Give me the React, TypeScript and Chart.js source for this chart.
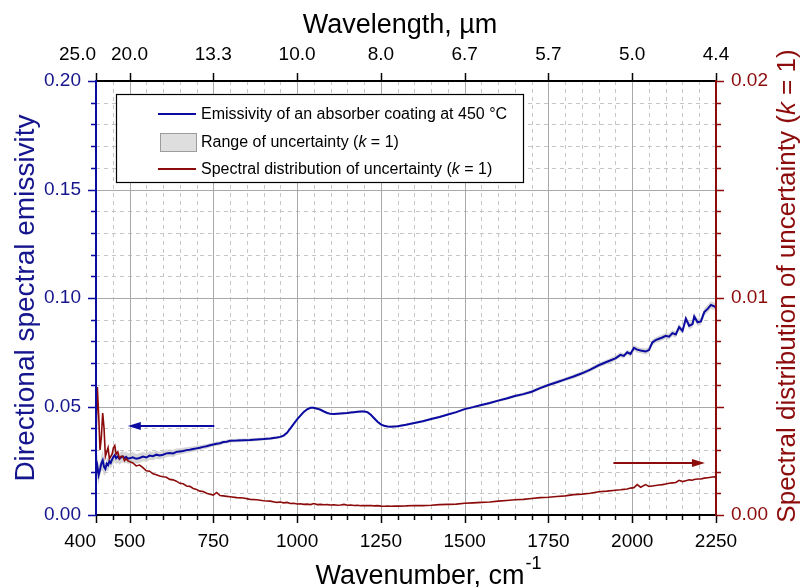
import React, { useEffect, useRef } from 'react';
import { Chart, registerables } from 'chart.js';

Chart.register(...registerables);

// ---------------- data ----------------
const wavenumber = [
  400, 404, 408, 412, 416, 420, 424, 428, 432, 436, 440, 444, 448, 452, 456, 460, 465, 470, 475, 480, 485, 490, 495, 500,
  510, 520, 530, 540, 550, 560, 570, 580, 590, 600, 610, 620, 630, 640, 650, 660, 670, 680, 690, 700,
  710, 720, 730, 740, 750, 760, 770, 780, 790, 800, 820, 840, 860, 880, 900, 920, 940, 950, 960, 970, 980, 990,
  1000, 1010, 1020, 1030, 1040, 1050, 1060, 1070, 1080, 1090, 1100, 1110, 1120, 1130, 1140, 1150, 1160, 1170, 1180, 1190,
  1200, 1210, 1220, 1230, 1240, 1250, 1260, 1270, 1280, 1290, 1300, 1325, 1350, 1375, 1400, 1425, 1450, 1475,
  1500, 1525, 1550, 1575, 1600, 1625, 1650, 1675, 1700, 1725, 1750, 1775, 1800, 1825, 1850, 1875, 1900, 1925, 1950,
  1965, 1975, 1985, 1995, 2005, 2015, 2025, 2040, 2050, 2060, 2070, 2080, 2090, 2100, 2110, 2120, 2130, 2140, 2150,
  2160, 2170, 2180, 2185, 2195, 2205, 2215, 2225, 2235, 2245, 2250,
];

const emissivity = [
  0.0190, 0.0225, 0.0185, 0.0210, 0.0238, 0.0252, 0.0222, 0.0212, 0.0236, 0.0230, 0.0248, 0.0240, 0.0256, 0.0268, 0.0276, 0.0262, 0.0270, 0.0258, 0.0266, 0.0270, 0.0262, 0.0268, 0.0260, 0.0261,
  0.0266, 0.0259, 0.0263, 0.0269, 0.0265, 0.0274, 0.0271, 0.0278, 0.0274, 0.0278, 0.0284, 0.0286, 0.0284, 0.0291, 0.0293, 0.0295, 0.0299, 0.0301, 0.0304, 0.0307,
  0.0310, 0.0314, 0.0317, 0.0321, 0.0325, 0.0328, 0.0331, 0.0336, 0.0338, 0.0342, 0.0343, 0.0345, 0.0346, 0.0348, 0.0350, 0.0353, 0.0357, 0.0360, 0.0366, 0.0379, 0.0399, 0.0420,
  0.0441, 0.0458, 0.0475, 0.0487, 0.0494, 0.0494, 0.0490, 0.0485, 0.0477, 0.0470, 0.0466, 0.0465, 0.0467, 0.0468, 0.0469, 0.0470, 0.0472, 0.0474, 0.0476, 0.0477,
  0.0477, 0.0474, 0.0462, 0.0446, 0.0430, 0.0418, 0.0411, 0.0408, 0.0407, 0.0408, 0.0409, 0.0416, 0.0424, 0.0432, 0.0442, 0.0452, 0.0463, 0.0474,
  0.0488, 0.0497, 0.0507, 0.0516, 0.0527, 0.0537, 0.0548, 0.0557, 0.0568, 0.0585, 0.0599, 0.0612, 0.0625, 0.0638, 0.0653, 0.0670, 0.0690, 0.0706, 0.0722,
  0.0738, 0.0733, 0.0750, 0.0742, 0.0770, 0.0762, 0.0758, 0.0754, 0.0760, 0.0795, 0.0806, 0.0812, 0.0818, 0.0826, 0.0822, 0.0838, 0.0832, 0.0866, 0.0848,
  0.0905, 0.0872, 0.0880, 0.0915, 0.0888, 0.0892, 0.0935, 0.0950, 0.0968, 0.0962, 0.0955,
];

const uncertainty = [
  0.0035, 0.0059, 0.0046, 0.0030, 0.0036, 0.0047, 0.0040, 0.0027, 0.0029, 0.0031, 0.0026, 0.0027, 0.0028, 0.0031, 0.0032, 0.0028, 0.0029, 0.0026, 0.0027, 0.0027, 0.0025, 0.0026, 0.0025, 0.00246,
  0.00240, 0.00226, 0.00230, 0.00218, 0.00204, 0.00202, 0.00190, 0.00186, 0.00180, 0.00176, 0.00174, 0.00164, 0.00162, 0.00156, 0.00146, 0.00144, 0.00134, 0.00132, 0.00122, 0.00118,
  0.00110, 0.00108, 0.00100, 0.00096, 0.00092, 0.00104, 0.00090, 0.00088, 0.00086, 0.00084, 0.00080, 0.00078, 0.00072, 0.00070, 0.00066, 0.00064, 0.00058, 0.00060, 0.00056, 0.00058, 0.00053, 0.00054,
  0.00051, 0.00052, 0.00049, 0.00050, 0.00048, 0.00053, 0.00048, 0.00049, 0.00047, 0.00048, 0.00046, 0.00047, 0.00045, 0.00046, 0.00049, 0.00045, 0.00046, 0.00044, 0.00045, 0.00043,
  0.00044, 0.00043, 0.00044, 0.00042, 0.00043, 0.00041, 0.00040, 0.00041, 0.00040, 0.00041, 0.00041, 0.00042, 0.00044, 0.00043, 0.00045, 0.00048, 0.00049, 0.00050,
  0.00054, 0.00056, 0.00058, 0.00060, 0.00064, 0.00067, 0.00070, 0.00072, 0.00076, 0.00080, 0.00082, 0.00085, 0.00088, 0.00094, 0.00096, 0.00100, 0.00107, 0.00110, 0.00114,
  0.00116, 0.00118, 0.00120, 0.00124, 0.00126, 0.00140, 0.00128, 0.00140, 0.00132, 0.00134, 0.00136, 0.00138, 0.00140, 0.00143, 0.00146, 0.00148, 0.00150, 0.00160, 0.00154,
  0.00158, 0.00162, 0.00160, 0.00164, 0.00166, 0.00166, 0.00170, 0.00172, 0.00174, 0.00176, 0.00175,
];

const bottomTickLabels = [400, 500, 750, 1000, 1250, 1500, 1750, 2000, 2250];
const topTickWavenumbers = [400, 500, 750, 1000, 1250, 1500, 1750, 2000, 2250];
const leftTicks = [0, 0.05, 0.1, 0.15, 0.2];
const rightTicks = [0, 0.01, 0.02];

const legendTexts = [
  [{ t: 'Emissivity of an absorber coating at 450 °C' }],
  [{ t: 'Range of uncertainty (' }, { t: 'k', i: true }, { t: ' = 1)' }],
  [{ t: 'Spectral distribution of uncertainty (' }, { t: 'k', i: true }, { t: ' = 1)' }],
];
const rightTitle = [{ t: 'Spectral distribution of uncertainty (' }, { t: 'k', i: true }, { t: ' = 1)' }];

// arrow annotations (data units)
const arrowLeft = { from: 753, to: 495, value: 0.041 };
const arrowRight = { from: 1944, to: 2217, value: 0.00238 };

// ---------------- styling ----------------
const FAMILY = '"Liberation Sans", Arial, Helvetica, sans-serif';
const BLUE = '#0b0ba2';
const BLUE_TEXT = '#15158e';
const RED = '#8c0b0b';
const TICK_SIZE = 19;

type Seg = { t: string; i?: boolean };

function segWidth(ctx: CanvasRenderingContext2D, segs: Seg[], size: number) {
  let w = 0;
  for (const s of segs) {
    ctx.font = `${s.i ? 'italic ' : ''}${size}px ${FAMILY}`;
    w += ctx.measureText(s.t).width;
  }
  return w;
}

function drawSegs(ctx: CanvasRenderingContext2D, segs: Seg[], x: number, y: number, size: number, color: string) {
  let cx = x;
  ctx.fillStyle = color;
  ctx.textAlign = 'left';
  for (const s of segs) {
    ctx.font = `${s.i ? 'italic ' : ''}${size}px ${FAMILY}`;
    ctx.fillText(s.t, cx, y);
    cx += ctx.measureText(s.t).width;
  }
}

function arrow(ctx: CanvasRenderingContext2D, x1: number, x2: number, y: number, color: string) {
  const dir = x2 > x1 ? 1 : -1;
  const head = 13;
  ctx.save();
  ctx.strokeStyle = color;
  ctx.fillStyle = color;
  ctx.lineWidth = 2;
  ctx.beginPath();
  ctx.moveTo(x1, y);
  ctx.lineTo(x2 - dir * head * 0.6, y);
  ctx.stroke();
  ctx.beginPath();
  ctx.moveTo(x2, y);
  ctx.lineTo(x2 - dir * head, y - 4);
  ctx.lineTo(x2 - dir * head, y + 4);
  ctx.closePath();
  ctx.fill();
  ctx.restore();
}

const decor = {
  id: 'decor',
  beforeDatasetsDraw(chart: any) {
    const { ctx, chartArea: a, scales } = chart;
    const x = scales.x;
    const y = scales.y;
    ctx.save();
    ctx.lineWidth = 1;
    // minor dashed grid
    ctx.strokeStyle = '#c6c6c6';
    ctx.setLineDash([4, 4]);
    for (let i = 1; i < 37; i++) {
      const v = 400 + 50 * i;
      if (v % 250 === 0) continue;
      const px = Math.round(x.getPixelForValue(v)) + 0.5;
      ctx.beginPath();
      ctx.moveTo(px, a.top);
      ctx.lineTo(px, a.bottom);
      ctx.stroke();
    }
    for (let i = 1; i < 20; i++) {
      if (i % 5 === 0) continue;
      const py = Math.round(y.getPixelForValue(i / 100)) + 0.5;
      ctx.beginPath();
      ctx.moveTo(a.left, py);
      ctx.lineTo(a.right, py);
      ctx.stroke();
    }
    // major solid grid
    ctx.setLineDash([]);
    ctx.strokeStyle = '#a9a9a9';
    for (const v of bottomTickLabels) {
      if (v === 400 || v === 2250) continue;
      const px = Math.round(x.getPixelForValue(v)) + 0.5;
      ctx.beginPath();
      ctx.moveTo(px, a.top);
      ctx.lineTo(px, a.bottom);
      ctx.stroke();
    }
    for (const v of [0.05, 0.1, 0.15]) {
      const py = Math.round(y.getPixelForValue(v)) + 0.5;
      ctx.beginPath();
      ctx.moveTo(a.left, py);
      ctx.lineTo(a.right, py);
      ctx.stroke();
    }
    ctx.restore();
  },
  afterDatasetsDraw(chart: any) {
    const { ctx, chartArea: a, scales } = chart;
    const x = scales.x;
    const x2 = scales.x2;
    const y = scales.y;
    const yR = scales.yR;
    ctx.save();

    // arrows
    arrow(ctx, x.getPixelForValue(arrowLeft.from), x.getPixelForValue(arrowLeft.to), Math.round(y.getPixelForValue(arrowLeft.value)), BLUE);
    arrow(ctx, x.getPixelForValue(arrowRight.from), x.getPixelForValue(arrowRight.to), Math.round(yR.getPixelForValue(arrowRight.value)), RED);

    // legend
    const lx = a.left + 20;
    const ly = a.top + 13;
    const lw = 407;
    const lh = 88;
    ctx.fillStyle = '#ffffff';
    ctx.fillRect(lx, ly, lw, lh);
    ctx.strokeStyle = '#000000';
    ctx.lineWidth = 1.2;
    ctx.strokeRect(lx + 0.5, ly + 0.5, lw, lh);
    const rows = [ly + 20, ly + 48, ly + 75];
    ctx.lineWidth = 2;
    ctx.strokeStyle = BLUE;
    ctx.beginPath();
    ctx.moveTo(lx + 42, rows[0]);
    ctx.lineTo(lx + 80, rows[0]);
    ctx.stroke();
    ctx.fillStyle = '#dedede';
    ctx.fillRect(lx + 44, rows[1] - 9, 36, 18);
    ctx.strokeStyle = '#9c9c9c';
    ctx.lineWidth = 1;
    ctx.strokeRect(lx + 44.5, rows[1] - 8.5, 36, 18);
    ctx.strokeStyle = RED;
    ctx.lineWidth = 2;
    ctx.beginPath();
    ctx.moveTo(lx + 42, rows[2]);
    ctx.lineTo(lx + 80, rows[2]);
    ctx.stroke();
    ctx.textBaseline = 'middle';
    legendTexts.forEach((segs, k) => drawSegs(ctx, segs as Seg[], lx + 85, rows[k] + 1, 16, '#000000'));

    // tick marks
    ctx.lineWidth = 1.5;
    ctx.strokeStyle = '#000000';
    for (let i = 0; i <= 37; i++) {
      const v = 400 + 50 * i;
      const major = v === 400 || v % 250 === 0;
      const px = Math.round(x.getPixelForValue(v)) + 0.5;
      ctx.beginPath();
      ctx.moveTo(px, a.bottom);
      ctx.lineTo(px, a.bottom + (major ? 8 : 5));
      ctx.stroke();
    }
    for (const v of topTickWavenumbers) {
      const px = Math.round(x2.getPixelForValue(v)) + 0.5;
      ctx.beginPath();
      ctx.moveTo(px, a.top);
      ctx.lineTo(px, a.top - 8);
      ctx.stroke();
    }
    ctx.strokeStyle = BLUE;
    for (let i = 0; i <= 20; i++) {
      const py = Math.round(y.getPixelForValue(i / 100)) + 0.5;
      ctx.beginPath();
      ctx.moveTo(a.left, py);
      ctx.lineTo(a.left - (i % 5 === 0 ? 8 : 5), py);
      ctx.stroke();
    }
    ctx.strokeStyle = RED;
    for (let i = 0; i <= 20; i++) {
      const py = Math.round(yR.getPixelForValue(i / 1000)) + 0.5;
      ctx.beginPath();
      ctx.moveTo(a.right, py);
      ctx.lineTo(a.right + (i % 5 === 0 ? 8 : 5), py);
      ctx.stroke();
    }

    // frame
    ctx.lineWidth = 2;
    ctx.strokeStyle = '#000000';
    ctx.beginPath();
    ctx.moveTo(a.left, a.top);
    ctx.lineTo(a.right, a.top);
    ctx.moveTo(a.left, a.bottom);
    ctx.lineTo(a.right, a.bottom);
    ctx.stroke();
    ctx.strokeStyle = BLUE;
    ctx.beginPath();
    ctx.moveTo(a.left, a.top - 1);
    ctx.lineTo(a.left, a.bottom + 1);
    ctx.stroke();
    ctx.strokeStyle = RED;
    ctx.beginPath();
    ctx.moveTo(a.right, a.top - 1);
    ctx.lineTo(a.right, a.bottom + 1);
    ctx.stroke();

    // bottom tick labels
    ctx.font = `${TICK_SIZE}px ${FAMILY}`;
    ctx.fillStyle = '#000000';
    ctx.textBaseline = 'middle';
    bottomTickLabels.forEach((v, k) => {
      const px = x.getPixelForValue(v);
      ctx.textAlign = k === 0 ? 'right' : 'center';
      ctx.fillText(String(v), px, a.bottom + 27);
    });
    // top tick labels (wavelength in micrometres)
    topTickWavenumbers.forEach((v, k) => {
      const px = x2.getPixelForValue(v);
      ctx.textAlign = k === 0 ? 'right' : 'center';
      ctx.fillText((10000 / v).toFixed(1), px, a.top - 26);
    });

    // titles
    ctx.textBaseline = 'alphabetic';
    ctx.fillStyle = '#000000';
    ctx.font = `27px ${FAMILY}`;
    ctx.textAlign = 'center';
    ctx.fillText('Wavelength, µm', 400, 33);

    const main = 'Wavenumber, cm';
    ctx.font = `27px ${FAMILY}`;
    const wMain = ctx.measureText(main).width;
    ctx.font = `18px ${FAMILY}`;
    const wSup = ctx.measureText('-1').width;
    const start = 428 - (wMain + wSup) / 2;
    ctx.textAlign = 'left';
    ctx.font = `27px ${FAMILY}`;
    ctx.fillText(main, start, 584);
    ctx.font = `18px ${FAMILY}`;
    ctx.fillText('-1', start + wMain + 1, 569);

    // left title
    ctx.save();
    ctx.translate(26, (a.top + a.bottom) / 2);
    ctx.rotate(-Math.PI / 2);
    ctx.font = `28px ${FAMILY}`;
    ctx.fillStyle = BLUE_TEXT;
    ctx.textAlign = 'center';
    ctx.textBaseline = 'middle';
    ctx.fillText('Directional spectral emissivity', 0, 0);
    ctx.restore();

    // right title
    ctx.save();
    ctx.translate(788, 286);
    ctx.rotate(-Math.PI / 2);
    ctx.textBaseline = 'middle';
    const wr = segWidth(ctx, rightTitle, 26);
    drawSegs(ctx, rightTitle, -wr / 2, 0, 26, RED);
    ctx.restore();

    ctx.restore();
  },
};

export default function App() {
  const ref = useRef<HTMLCanvasElement | null>(null);

  useEffect(() => {
    if (!ref.current) return;
    const upper = wavenumber.map((w, i) => ({ x: w, y: emissivity[i] + uncertainty[i] }));
    const lower = wavenumber.map((w, i) => ({ x: w, y: emissivity[i] - uncertainty[i] }));
    const chart = new Chart(ref.current, {
      type: 'line',
      data: {
        datasets: [
          {
            label: 'Spectral distribution of uncertainty (k = 1)',
            data: wavenumber.map((w, i) => ({ x: w, y: uncertainty[i] })),
            xAxisID: 'x',
            yAxisID: 'yR',
            borderColor: RED,
            borderWidth: 1.6,
            pointRadius: 0,
            fill: false,
            order: 0,
          },
          {
            label: 'Emissivity of an absorber coating at 450 °C',
            data: wavenumber.map((w, i) => ({ x: w, y: emissivity[i] })),
            xAxisID: 'x',
            yAxisID: 'y',
            borderColor: BLUE,
            borderWidth: 2,
            pointRadius: 0,
            fill: false,
            order: 1,
          },
          {
            label: 'Range of uncertainty (k = 1)',
            data: upper,
            xAxisID: 'x',
            yAxisID: 'y',
            borderColor: 'transparent',
            borderWidth: 0,
            backgroundColor: 'rgba(200,200,200,0.75)',
            pointRadius: 0,
            fill: '+1',
            order: 2,
          },
          {
            label: 'lower',
            data: lower,
            xAxisID: 'x',
            yAxisID: 'y',
            borderColor: 'transparent',
            borderWidth: 0,
            pointRadius: 0,
            fill: false,
            order: 3,
          },
        ],
      },
      options: {
        responsive: false,
        animation: false,
        devicePixelRatio: 1,
        layout: { padding: 0 },
        plugins: { legend: { display: false }, tooltip: { enabled: false } },
        scales: {
          x: {
            type: 'linear',
            position: 'bottom',
            min: 400,
            max: 2250,
            grid: { display: false, drawTicks: false },
            border: { display: false },
            ticks: { display: false },
            afterFit: (s: any) => { s.height = 72; },
          },
          x2: {
            type: 'linear',
            position: 'top',
            min: 400,
            max: 2250,
            grid: { display: false, drawTicks: false },
            border: { display: false },
            ticks: { display: false },
            afterFit: (s: any) => { s.height = 81; },
          },
          y: {
            type: 'linear',
            position: 'left',
            min: 0,
            max: 0.2,
            afterBuildTicks: (s: any) => { s.ticks = leftTicks.map((v) => ({ value: v })); },
            grid: { display: false, drawTicks: false },
            border: { display: false },
            ticks: {
              color: BLUE_TEXT,
              padding: 15,
              font: { family: FAMILY, size: TICK_SIZE },
              callback: (v: any) => Number(v).toFixed(2),
            },
            afterFit: (s: any) => { s.width = 96; },
          },
          yR: {
            type: 'linear',
            position: 'right',
            min: 0,
            max: 0.02,
            afterBuildTicks: (s: any) => { s.ticks = rightTicks.map((v) => ({ value: v })); },
            grid: { display: false, drawTicks: false },
            border: { display: false },
            ticks: {
              color: RED,
              padding: 15,
              font: { family: FAMILY, size: TICK_SIZE },
              callback: (v: any) => Number(v).toFixed(2),
            },
            afterFit: (s: any) => { s.width = 89; },
          },
        },
      } as any,
      plugins: [decor as any],
    });
    return () => chart.destroy();
  }, []);

  return (
    <div style={{ position: 'absolute', left: 0, top: 0, width: 805, height: 587, background: '#ffffff' }}>
      <canvas ref={ref} width={805} height={587} style={{ display: 'block' }} />
    </div>
  );
}
